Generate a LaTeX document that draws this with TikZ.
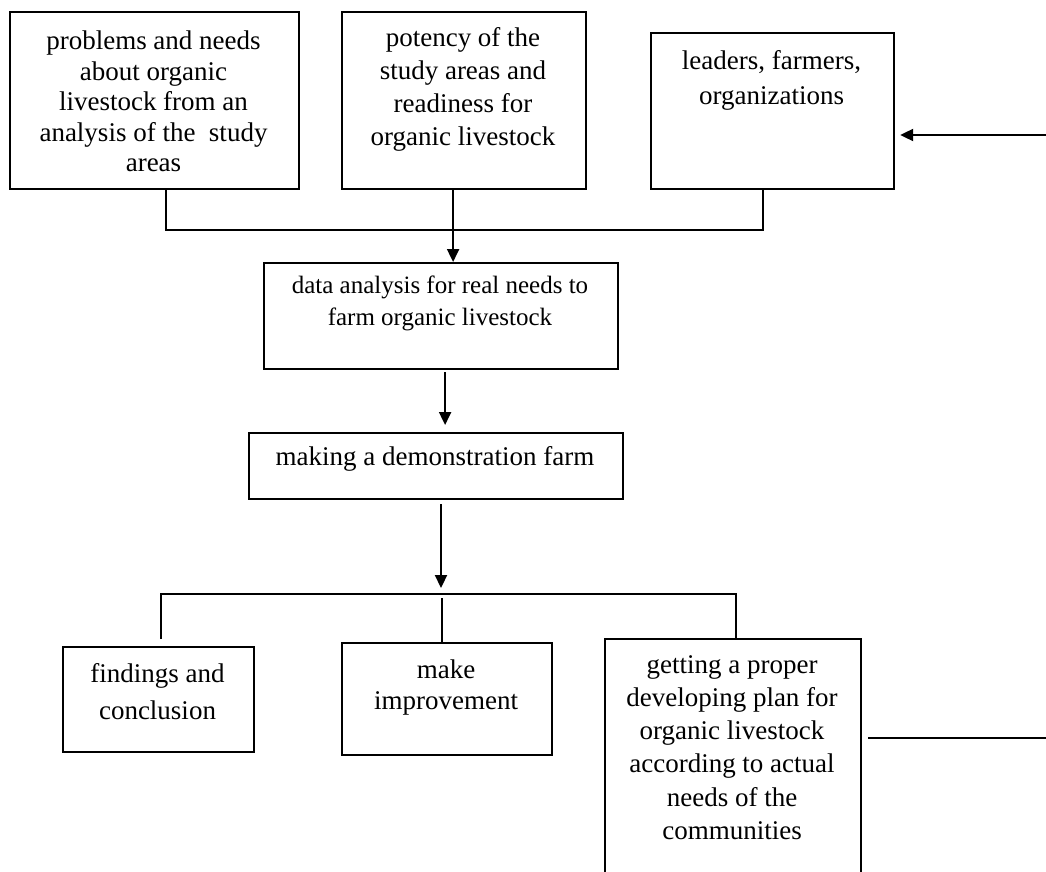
\documentclass[tikz,border=0pt]{standalone}
\usepackage{fontspec}
\setmainfont{Liberation Serif}
\usetikzlibrary{arrows.meta}
\tikzset{
  x=1pt, y=-1pt,
  box/.style={draw, line width=2.2pt, rectangle, inner sep=0pt, anchor=north west},
  txt/.style={inner sep=0pt, anchor=north, align=center},
  conn/.style={line width=2.2pt},
  arr/.style={line width=2.2pt, -{Triangle[length=13pt,width=12pt]}}
}
\begin{document}
\begin{tikzpicture}
\clip (0,0) rectangle (1046,872);
\fill[white] (0,0) rectangle (1046,872);
% boxes
\node[box, minimum width=289pt, minimum height=177pt] (b1) at (9,11) {};
\node[box, minimum width=244pt, minimum height=177pt] (b2) at (341,11) {};
\node[box, minimum width=243pt, minimum height=156pt] (b3) at (650,32) {};
\node[box, minimum width=354pt, minimum height=106pt] (da) at (263,262) {};
\node[box, minimum width=374pt, minimum height=66pt] (de) at (248,432) {};
\node[box, minimum width=191pt, minimum height=105pt] (fi) at (62,646) {};
\node[box, minimum width=210pt, minimum height=112pt] (mi) at (341,642) {};
\node[box, minimum width=256pt, minimum height=270pt] (gp) at (604,638) {};
% texts
\node[txt, font=\fontsize{27}{30.5}\selectfont] (b1t) at (153.5,31)
  {problems and needs\\about organic\\livestock from an\\analysis of the~ study\\areas};
\node[txt, font=\fontsize{27}{33}\selectfont] (b2t) at (463,27)
  {potency of the\\study areas and\\readiness for\\organic livestock};
\node[txt, font=\fontsize{27}{35}\selectfont] (b3t) at (771.5,50)
  {leaders, farmers,\\organizations};
\node[txt, font=\fontsize{25}{32}\selectfont] (dat) at (440,276)
  {data analysis for real needs to\\farm organic livestock};
\node[txt, font=\fontsize{27}{33}\selectfont] (det) at (435,446)
  {making a demonstration farm};
\node[txt, font=\fontsize{27}{37}\selectfont] (fit) at (157.5,663)
  {findings and\\conclusion};
\node[txt, font=\fontsize{27}{31}\selectfont] (mit) at (446,660)
  {make\\improvement};
\node[txt, font=\fontsize{27}{33.3}\selectfont] (gpt) at (732,655)
  {getting a proper\\developing plan for\\organic livestock\\according to actual\\needs of the\\communities};
% junction coordinates
\coordinate (j1) at (452,230);
\coordinate (j2) at (441,594);
\coordinate (eR) at (1046,738);
\coordinate (eA) at (1046,135);
% top merge
\draw[conn] ([xshift=11.5pt]b1.south) |- (j1) -| ([xshift=-9.5pt]b3.south);
\draw[arr] ([xshift=-11pt]b2.south) -- ([xshift=-11pt]b2.south |- da.north);
% data -> demo
\draw[arr] ([xshift=4pt,yshift=-2pt]da.south) -- ([xshift=9pt,yshift=7pt]de.north);
% demo -> branch
\draw[arr] ([yshift=-4pt]j2 |- de.south) -- ([yshift=6pt]j2);
\draw[conn] ([xshift=2.5pt,yshift=7pt]fi.north) |- (j2) -| ([xshift=3pt]gp.north);
\draw[conn] ([xshift=-5pt,yshift=-4pt]mi.north |- j2) -- ([xshift=-5pt]mi.north);
% feedback
\draw[conn] ([xshift=6pt]gp.east |- eR) -- (eR);
\draw[arr] (eA) -- ([xshift=5pt]b3.east |- eA);
\end{tikzpicture}
\end{document}
